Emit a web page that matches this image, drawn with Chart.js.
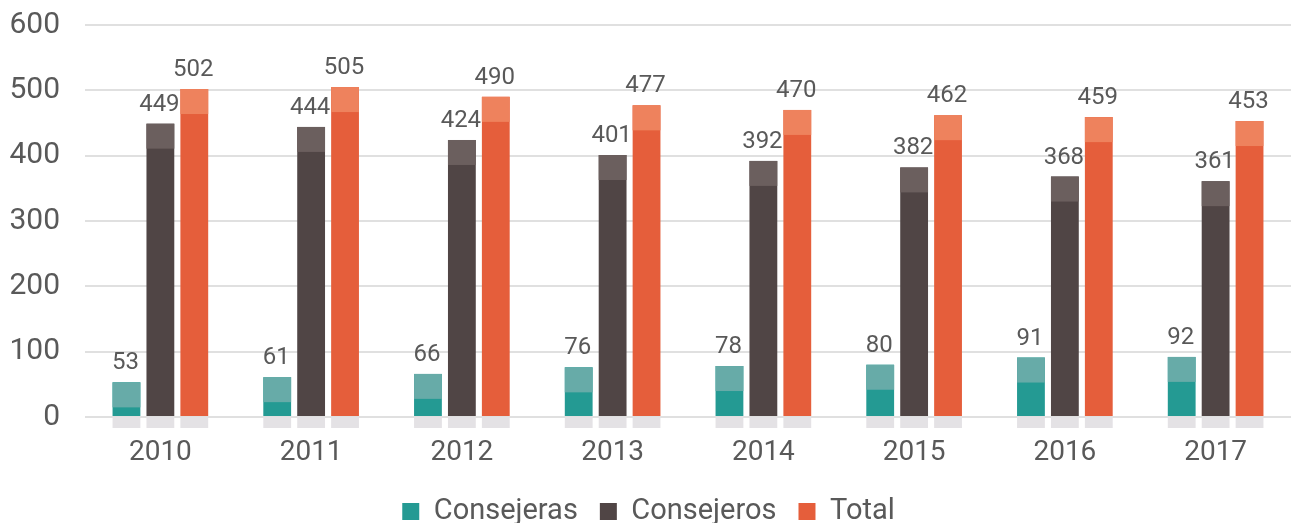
<!DOCTYPE html>
<html>
<head>
<meta charset="utf-8">
<script src="https://cdn.jsdelivr.net/npm/chart.js@4"></script>
<style>
  html, body { margin: 0; padding: 0; background: #fff; }
  #wrap { width: 1291px; height: 523px; }
</style>
</head>
<body>
<div id="wrap"><canvas id="chart" width="1291" height="523"></canvas></div>
<script>
const years = ['2010', '2011', '2012', '2013', '2014', '2015', '2016', '2017'];
const consejeras = [53, 61, 66, 76, 78, 80, 91, 92];
const consejeros = [449, 444, 424, 401, 392, 382, 368, 361];
const total = [502, 505, 490, 477, 470, 462, 459, 453];
const yTicks = [0, 100, 200, 300, 400, 500, 600];

const textColor = '#595959';
const font = 'Roboto, "Noto Sans", sans-serif';

// lighter top face + grey floor under each bar, then the value labels
const barDecor = {
  id: 'barDecor',
  afterDatasetsDraw(chart) {
    const ctx = chart.ctx;
    const area = chart.chartArea;
    ctx.save();
    chart.data.datasets.forEach((ds, i) => {
      const meta = chart.getDatasetMeta(i);
      meta.data.forEach((bar, j) => {
        const w = bar.width;
        const left = bar.x - w / 2;
        ctx.fillStyle = '#e4e2e5';
        ctx.fillRect(left, area.bottom, w, 11);
        const capH = Math.min(25, bar.base - bar.y);
        ctx.fillStyle = ds.capColor;
        ctx.fillRect(left, bar.y, w, capH);
        ctx.fillStyle = textColor;
        ctx.font = '24px ' + font;
        ctx.textAlign = 'center';
        ctx.textBaseline = 'alphabetic';
        ctx.fillText(ds.data[j], bar.x - 1, bar.y - 13);
      });
    });
    ctx.restore();
  }
};

new Chart(document.getElementById('chart'), {
  type: 'bar',
  data: {
    labels: years,
    datasets: [
      { label: 'Consejeras', data: consejeras, backgroundColor: '#249a93', capColor: '#67aba8' },
      { label: 'Consejeros', data: consejeros, backgroundColor: '#504545', capColor: '#6b5f5e' },
      { label: 'Total', data: total, backgroundColor: '#e55e3b', capColor: '#ee825d' }
    ]
  },
  options: {
    responsive: false,
    animation: false,
    categoryPercentage: 0.675,
    barPercentage: 0.82,
    layout: { padding: { top: 25, left: 6, right: 0, bottom: -13 } },
    plugins: {
      legend: {
        position: 'bottom',
        labels: {
          boxWidth: 17,
          boxHeight: 17,
          padding: 22,
          color: textColor,
          font: { size: 29, family: font }
        }
      },
      tooltip: { enabled: false }
    },
    scales: {
      x: {
        grid: { display: false },
        border: { display: false },
        ticks: { color: textColor, padding: 11, font: { size: 28, family: font } },
        afterFit: (axis) => { axis.height = 58; }
      },
      y: {
        min: 0,
        max: 600,
        afterBuildTicks: (axis) => { axis.ticks = yTicks.map(v => ({ value: v })); },
        afterFit: (axis) => { axis.width = 79; axis.paddingTop = 0; axis.paddingBottom = 0; },
        grid: { color: '#e0e0e0', lineWidth: 2, drawTicks: false },
        border: { display: false },
        ticks: { color: textColor, padding: 25, font: { size: 30, family: font } }
      }
    }
  },
  plugins: [barDecor]
});
</script>
</body>
</html>
